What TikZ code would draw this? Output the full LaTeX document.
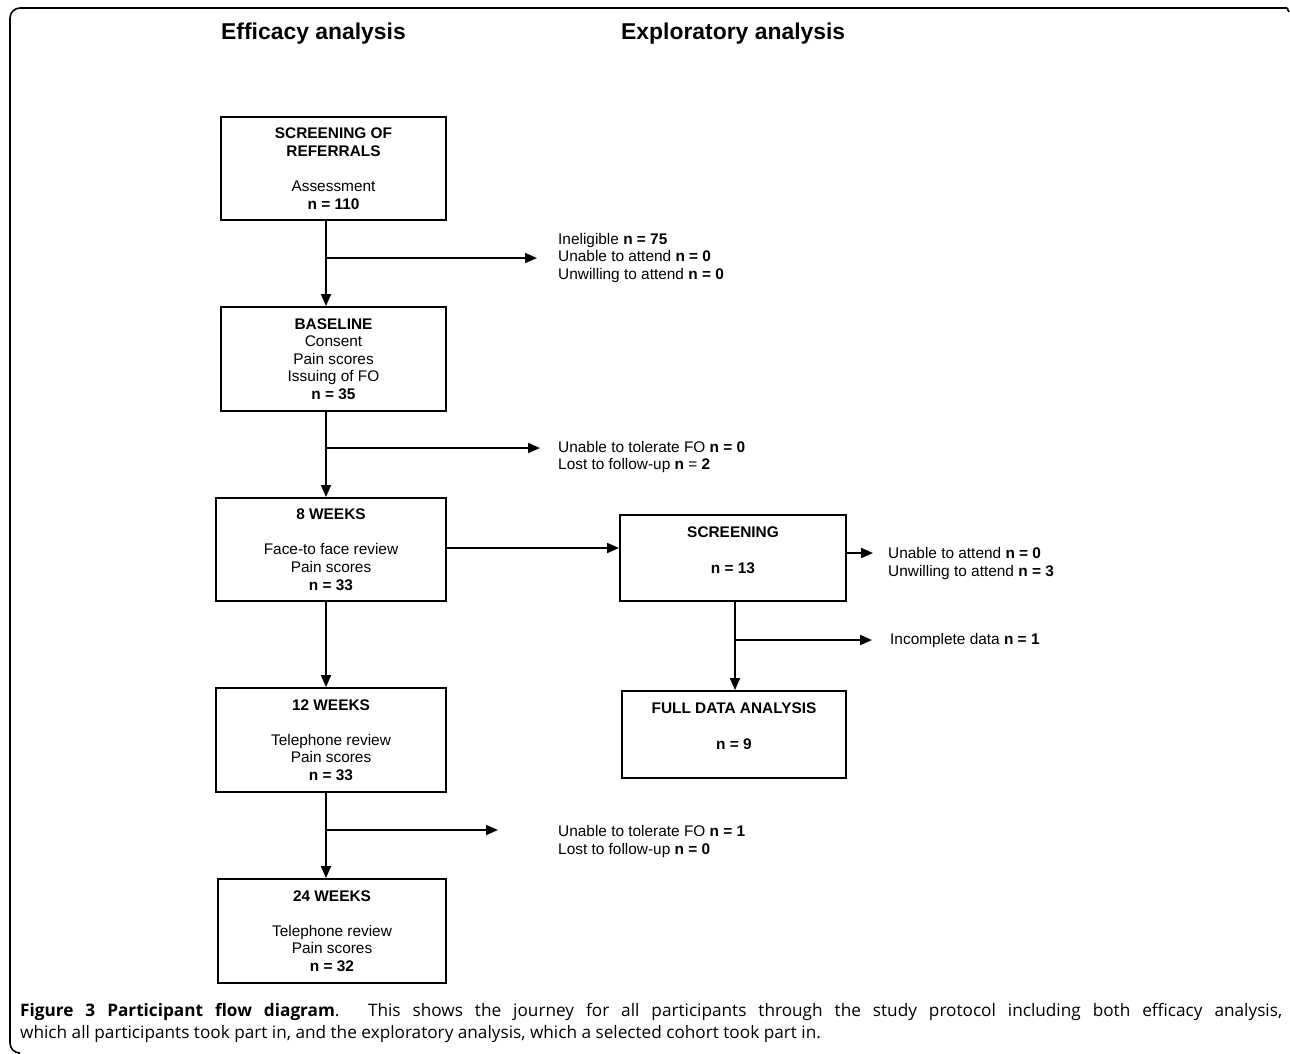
\documentclass[tikz,border=0pt]{standalone}
\usepackage{fontspec}
\setmainfont{Liberation Sans}
\newfontfamily\capfont{Open Sans}
\usetikzlibrary{arrows.meta,positioning}

\tikzset{
  stage/.style={draw, line width=1.9pt, inner sep=0pt, align=center,
    font=\fontsize{15.4}{17.6}\selectfont},
  exitnote/.style={anchor=west, align=left, inner sep=0pt,
    font=\fontsize{15.4}{17.6}\selectfont},
  heading/.style={anchor=west, inner sep=0pt, font=\bfseries\fontsize{22.9}{26}\selectfont},
  flow/.style={line width=1.8pt, -{Triangle[length=12pt,width=10pt]}},
}

\begin{document}
\begin{tikzpicture}[x=1pt,y=-1pt]
  \useasboundingbox (0,0) rectangle (1290,1053);
  % frame
  \draw[line width=1.6pt, rounded corners=10pt] (18,1053) -- (10,1053) -- (10,8) -- (1287,8);
  \draw[line width=1.6pt] (1287,8) -- (1289,12);

  \node[heading] (effhead) at (221,34) {Efficacy analysis};
  \node[heading] (exphead) at (621,34) {Exploratory analysis};

  % efficacy column
  \node[stage, minimum width=225pt, minimum height=103pt] (refer) at (333.5,168.5)
    {\textbf{SCREENING OF}\\ \textbf{REFERRALS}\\[17.6pt] Assessment\\ \textbf{n = 110}};
  \node[stage, minimum width=225pt, minimum height=104pt] (base) at (333.5,359)
    {\textbf{BASELINE}\\ Consent\\ Pain scores\\ Issuing of FO\\ \textbf{n = 35}};
  \node[stage, minimum width=230pt, minimum height=103pt] (wk8) at (331,549.5)
    {\textbf{8 WEEKS}\\[17.6pt] Face-to face review\\ Pain scores\\ \textbf{n = 33}};
  \node[stage, minimum width=230pt, minimum height=104pt] (wk12) at (331,740)
    {\textbf{12 WEEKS}\\[17.6pt] Telephone review\\ Pain scores\\ \textbf{n = 33}};
  \node[stage, minimum width=228pt, minimum height=104pt] (wk24) at (332,931)
    {\textbf{24 WEEKS}\\[17.6pt] Telephone review\\ Pain scores\\ \textbf{n = 32}};

  % exploratory column
  \node[stage, minimum width=226pt, minimum height=86pt] (scr) at (733,558)
    {\textbf{SCREENING}\\[19pt] \textbf{n = 13}\\[-7pt] \strut};
  \node[stage, minimum width=224pt, minimum height=87pt] (full) at (734,734.5)
    {\textbf{FULL DATA ANALYSIS}\\[17.6pt] \textbf{n = 9}\\[-6pt] \strut};

  % exits
  \node[exitnote] (out1) at (558,258)
    {Ineligible \textbf{n = 75}\\ Unable to attend \textbf{n = 0}\\ Unwilling to attend \textbf{n = 0}};
  \node[exitnote] (out2) at (558,457)
    {Unable to tolerate FO \textbf{n = 0}\\ Lost to follow-up \textbf{n} = \textbf{2}};
  \node[exitnote] (out3) at (558,841.5)
    {Unable to tolerate FO \textbf{n = 1}\\ Lost to follow-up \textbf{n = 0}};
  \node[exitnote] (out4) at (888,563.5)
    {Unable to attend \textbf{n = 0}\\ Unwilling to attend \textbf{n = 3}};
  \node[exitnote] (out5) at (890,641) {Incomplete data \textbf{n = 1}};

  \coordinate (spine) at (326,0);
  \coordinate (side) at (735,0);
  \coordinate (split1) at (326,258);
  \coordinate (split2) at (326,448);
  \coordinate (split3) at (326,830);
  \coordinate (split4) at (735,640);
  \coordinate (tip1) at (537,258);
  \coordinate (tip2) at (540,448);
  \coordinate (tip3) at (498,830);
  \coordinate (tip4) at (873,553);
  \coordinate (tip5) at (872,640);

  \draw[flow] (refer.south -| spine) -- (base.north -| spine);
  \draw[flow] (base.south -| spine) -- (wk8.north -| spine);
  \draw[flow] (wk8.south -| spine) -- (wk12.north -| spine);
  \draw[flow] (wk12.south -| spine) -- (wk24.north -| spine);
  \draw[flow] (split1) -- (tip1);
  \draw[flow] (split2) -- (tip2);
  \draw[flow] (split3) -- (tip3);
  \draw[flow] (wk8.east |- 0,548) -- (scr.west |- 0,548);
  \draw[flow] (scr.east |- tip4) -- (tip4);
  \draw[flow] (scr.south -| side) -- (full.north -| side);
  \draw[flow] (split4) -- (tip5);

  % caption
  \node[anchor=north west, inner sep=0pt, text width=1262pt, align=justify,
    font=\capfont\fontsize{17.2}{22}\selectfont] (caption) at (20,1003)
    {\noindent\textbf{Figure 3 Participant flow diagram}. This shows the journey for all participants through the study protocol including both efficacy analysis,\linebreak which all participants took part in, and the exploratory analysis, which a selected cohort took part in.};
\end{tikzpicture}
\end{document}
